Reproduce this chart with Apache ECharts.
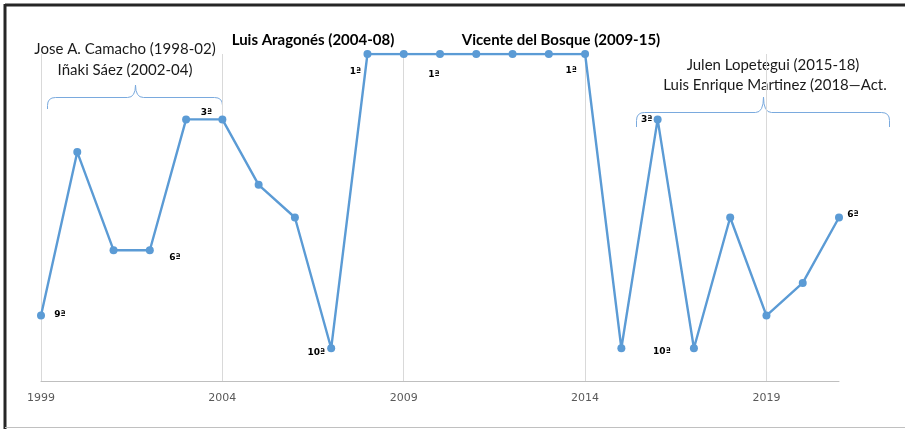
<!DOCTYPE html>
<html>
<head>
<meta charset="utf-8">
<script src="https://cdn.jsdelivr.net/npm/echarts@6/dist/echarts.min.js"></script>
<style>
  html, body { margin: 0; padding: 0; background: #fff; }
  #chart { width: 905px; height: 429px; }
</style>
</head>
<body>
<div id="chart"></div>
<script>
// years on the x axis
var years = ['1999', '2000', '2001', '2002', '2003', '2004', '2005', '2006', '2007', '2008', '2009',
  '2010', '2011', '2012', '2013', '2014', '2015', '2016', '2017', '2018', '2019', '2020', '2021'];
// FIFA ranking position per year (1 = best)
var ranking = [9, 4, 7, 7, 3, 3, 5, 6, 10, 1, 1, 1, 1, 1, 1, 1, 10, 3, 10, 6, 9, 8, 6];
// text of the small point labels (null = no label)
var rankLabels = ['9ª', null, null, '6ª', null, '3ª', null, null, '10ª', '1ª', null,
  '1ª', null, null, null, '1ª', null, '3ª', '10ª', null, null, null, '6ª'];
var coaches = [
  'Jose A. Camacho (1998-02)', 'Iñaki Sáez (2002-04)', 'Luis Aragonés (2004-08)',
  'Vicente del Bosque (2009-15)', 'Julen Lopetegui (2015-18)', 'Luis Enrique Martinez (2018—Act.'
];

// where each label sits relative to its point
var labelOffsets = {
  0: [19, -1], 3: [25, 7], 5: [-16, -7], 8: [-15, 4], 9: [-12, 18],
  11: [-6, 21], 15: [-14, 17], 17: [-11, 0], 18: [-32, 3], 22: [14, -3]
};

var chart = echarts.init(document.getElementById('chart'));

var seriesData = ranking.map(function (v, i) {
  var item = { value: v };
  if (rankLabels[i]) {
    item.label = {
      show: true,
      formatter: rankLabels[i],
      position: 'inside',
      offset: labelOffsets[i],
      align: 'center',
      verticalAlign: 'middle',
      fontSize: 9,
      fontWeight: 'bold',
      color: '#000',
      fontFamily: 'DejaVu Sans'
    };
  }
  return item;
});

var braceColor = '#7aaade';
var font = 'Lato';

// curly brace: left x, right x, middle x, line y, end y, tip y
function brace(x0, x1, xm, y, yEnd, yTip) {
  var r = 8;
  var st = { stroke: braceColor, lineWidth: 1, fill: null };
  return [
    { type: 'line', shape: { x1: x0, y1: yEnd, x2: x0, y2: y + r }, style: st },
    { type: 'bezierCurve', shape: { x1: x0, y1: y + r, cpx1: x0, cpy1: y, x2: x0 + r, y2: y }, style: st },
    { type: 'line', shape: { x1: x0 + r, y1: y, x2: xm - r, y2: y }, style: st },
    { type: 'bezierCurve', shape: { x1: xm - r, y1: y, cpx1: xm, cpy1: y, x2: xm, y2: yTip }, style: st },
    { type: 'bezierCurve', shape: { x1: xm, y1: yTip, cpx1: xm, cpy1: y, x2: xm + r, y2: y }, style: st },
    { type: 'line', shape: { x1: xm + r, y1: y, x2: x1 - r, y2: y }, style: st },
    { type: 'bezierCurve', shape: { x1: x1 - r, y1: y, cpx1: x1, cpy1: y, x2: x1, y2: y + r }, style: st },
    { type: 'line', shape: { x1: x1, y1: y + r, x2: x1, y2: yEnd }, style: st }
  ];
}

function label(x, y, text, bold) {
  return {
    type: 'text', x: x, y: y,
    style: {
      text: text, font: (bold ? 'bold ' : '') + '15px ' + font,
      fill: bold ? '#000' : '#1a1a1a', textAlign: 'center', textVerticalAlign: 'middle'
    }
  };
}

var graphics = [
  // frame
  { type: 'line', shape: { x1: 5, y1: 5, x2: 905, y2: 5 }, style: { stroke: '#262626', lineWidth: 3 } },
  { type: 'line', shape: { x1: 5, y1: 4, x2: 5, y2: 429 }, style: { stroke: '#262626', lineWidth: 3 } },
  { type: 'line', shape: { x1: 5, y1: 427.5, x2: 905, y2: 427.5 }, style: { stroke: '#c0c0c0', lineWidth: 1 } },
  label(125, 49, coaches[0], false),
  label(125, 70, coaches[1], false),
  label(313, 40, coaches[2], true),
  label(561, 40, coaches[3], true),
  label(773, 65, coaches[4], false),
  label(775, 85, coaches[5], false)
].concat(brace(47.5, 222.5, 135.5, 97.5, 109, 85), brace(636.5, 889.5, 763.5, 112.5, 127, 97));

var option = {
  backgroundColor: '#fff',
  animation: false,
  grid: { left: 41, right: 66, top: 54, bottom: 48 },
  xAxis: {
    type: 'category',
    data: years,
    boundaryGap: false,
    axisLine: { lineStyle: { color: '#bfbfbf', width: 1 } },
    axisTick: { show: false },
    axisLabel: { interval: 4, color: '#595959', fontSize: 11, margin: 12, fontFamily: 'DejaVu Sans' },
    splitLine: { show: true, interval: 4, lineStyle: { color: '#d9d9d9', width: 1 } }
  },
  yAxis: {
    type: 'value',
    min: 1,
    max: 11,
    inverse: true,
    show: false,
    splitLine: { show: false }
  },
  series: [{
    type: 'line',
    data: seriesData,
    symbol: 'circle',
    symbolSize: 8,
    lineStyle: { color: '#5b9bd5', width: 2.4 },
    itemStyle: { color: '#5b9bd5' },
    label: { show: false }
  }],
  graphic: graphics
};

chart.setOption(option);
</script>
</body>
</html>
